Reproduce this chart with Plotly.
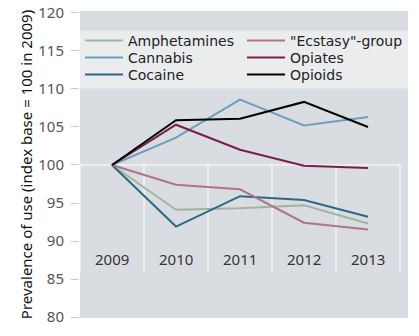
import plotly.graph_objects as go

years = ["2009", "2010", "2011", "2012", "2013"]
amphetamines = [100, 94.1, 94.3, 94.7, 92.3]
cannabis = [100, 103.6, 108.6, 105.2, 106.3]
cocaine = [100, 91.9, 95.9, 95.4, 93.2]
ecstasy = [100, 97.4, 96.8, 92.4, 91.5]
opiates = [100, 105.3, 102.0, 99.9, 99.6]
opioids = [100, 105.9, 106.1, 108.3, 105.0]

names = ["Amphetamines", "Cannabis", "Cocaine", '"Ecstasy"-group', "Opiates", "Opioids"]
values = [amphetamines, cannabis, cocaine, ecstasy, opiates, opioids]
colors = ["#a3b3a3", "#6d9fbf", "#2b6885", "#b07585", "#7a1f48", "#000000"]

FONT = "Noto Sans, Open Sans, sans-serif"
LFONT = "DejaVu Sans, sans-serif"
W, H = 419, 336
ML, MR, MT, MB = 80, 11, 11, 18
PW, PH = W - ML - MR, H - MT - MB

fig = go.Figure()
xi = list(range(len(years)))
legend_ids = ["legend", "legend2", "legend3", "legend4", "legend5", "legend6"]
for name, vals, color, lg in zip(names, values, colors, legend_ids):
    fig.add_trace(go.Scatter(x=xi, y=vals, mode="lines", name=name,
                             line=dict(color=color, width=2), legend=lg))

shapes = []
shapes.append(dict(type="rect", xref="paper", yref="y", x0=0, x1=1, y0=110.05, y1=117.7,
                   fillcolor="#eaecee", line=dict(width=0), layer="below"))
shapes.append(dict(type="line", xref="x", yref="y", x0=-0.5, x1=4.5, y0=100, y1=100,
                   line=dict(color="white", width=1), layer="below"))
for b in [-0.5, 0.5, 1.5, 2.5, 3.5, 4.5]:
    shapes.append(dict(type="line", xref="x", yref="y", x0=b, x1=b, y0=100, y1=85.9,
                       line=dict(color="white", width=1), layer="below"))

annotations = [dict(x=i, y=87.6, xref="x", yref="y", text=y, showarrow=False,
                    font=dict(family=FONT, size=15, color="#333333"))
               for i, y in enumerate(years)]

# legend placement in pixels (left edge of legend box, vertical centre of row)
leg_px = [(80, 41), (80, 58), (80, 75), (242, 41), (242, 58), (242, 75)]
legends = {}
for lg, (px, py) in zip(legend_ids, leg_px):
    legends[lg] = dict(
        x=(px - ML) / PW, y=1 - (py - MT) / PH, xanchor="left", yanchor="middle",
        bgcolor="rgba(0,0,0,0)", font=dict(family=LFONT, size=14, color="#222222"),
        itemwidth=38, tracegroupgap=0, borderwidth=0)

fig.update_layout(
    width=W, height=H,
    margin=dict(l=ML, r=MR, t=MT, b=MB, autoexpand=False),
    paper_bgcolor="white", plot_bgcolor="#d9dde1",
    font=dict(family=FONT, size=14, color="#222222"),
    shapes=shapes, annotations=annotations,
    xaxis=dict(range=[-0.5, 4.625], showgrid=False, zeroline=False, automargin=False,
               showticklabels=False, ticks="", fixedrange=True),
    yaxis=dict(range=[79.87, 120.26], tickvals=[80, 85, 90, 95, 100, 105, 110, 115, 120],
               showgrid=False, zeroline=False, ticks="outside", ticklen=8, automargin=False,
               tickcolor="#c8c8c8", ticklabelstandoff=4,
               tickfont=dict(family=FONT, size=15, color="#555555"),
               title=dict(text="Prevalence of use (index base = 100 in 2009)",
                          font=dict(family=FONT, size=15, color="#111111"), standoff=2)),
    showlegend=True,
    **legends,
)
fig.write_html("out.html")
